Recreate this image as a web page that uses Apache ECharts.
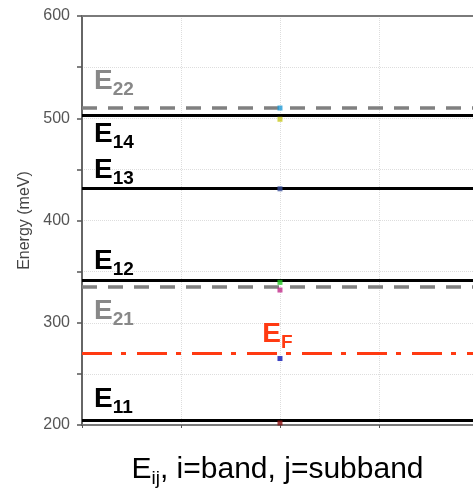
<!DOCTYPE html>
<html><head><meta charset="utf-8">
<script src="https://cdn.jsdelivr.net/npm/echarts@6/dist/echarts.min.js"></script>
<style>html,body{margin:0;padding:0;background:#fff}#c{width:473px;height:493px}</style>
</head><body><div id="c"></div>
<script>
// ---- data ----
const levelSubs   = ['22', '14', '13', '12', '21', 'F', '11'];
const levelValues = [510, 503, 431.5, 342, 335, 270, 204.5];
const levelKinds  = ['dashed', 'solid', 'solid', 'solid', 'dashed', 'dashdot', 'solid'];
const pointX      = 2;
const pointValues = [510, 499, 431, 339.5, 332, 265, 202];
const pointColors = ['#1f9ad6', '#c8c81e', '#3a4f9a', '#22c822', '#c02a8a', '#0a14b4', '#8a1010'];
const yMin = 200, yMax = 600, yStep = 50, yLabelStep = 100;
const xMin = 0, xMax = 3.95, xStep = 1;
const yName = 'Energy (meV)';
const xNameMain = 'E', xNameSub = 'ij', xNameRest = ', i=band, j=subband';

// ---- styles ----
const FONT = 'Liberation Sans, Arial, sans-serif';
const kindStyle = {
  solid:   { color: '#000000', width: 3, type: 'solid' },
  dashed:  { color: '#808080', width: 3.5, type: [15, 11] },
  dashdot: { color: '#ff3a12', width: 3, type: [30, 9, 5, 11] }
};
const textColor = { solid: '#000000', dashed: '#888888', dashdot: '#ff3a12' };
// label placement per level (position, [along, perpendicular])
const labelPlace = [
  ['insideStartTop', [12, 13]],
  ['insideStartBottom', [12, 5]],
  ['insideStartTop', [12, 4]],
  ['insideStartTop', [12, 5]],
  ['insideStartBottom', [12, 10]],
  ['insideMiddleTop', [-2, 5]],
  ['insideStartTop', [12, 7]]
];

function richFor(color) {
  return {
    m: { fontFamily: FONT, fontSize: 28, fontWeight: 'bold', color: color, lineHeight: 28, verticalAlign: 'top' },
    s: { fontFamily: FONT, fontSize: 19, fontWeight: 'bold', color: color, lineHeight: 20, verticalAlign: 'top', padding: [13, 0, 0, 0] }
  };
}

const markData = levelValues.map((v, i) => {
  const k = levelKinds[i];
  return {
    yAxis: v,
    lineStyle: kindStyle[k],
    label: {
      show: true,
      position: labelPlace[i][0],
      distance: labelPlace[i][1],
      formatter: '{m|E}{s|' + levelSubs[i] + '}',
      rich: richFor(textColor[k])
    }
  };
});

const chart = echarts.init(document.getElementById('c'), null, { renderer: 'canvas' });
chart.setOption({
  animation: false,
  backgroundColor: '#ffffff',
  grid: { left: 82, top: 16, right: 0, bottom: 64 },
  xAxis: [{
    type: 'value', min: xMin, max: xMax, interval: xStep,
    axisLabel: { show: false },
    axisLine: { show: true, lineStyle: { color: '#7a7a7a', width: 2 } },
    axisTick: { show: true, length: 3, lineStyle: { color: '#555' } },
    splitLine: { show: true, lineStyle: { color: '#dddddd', type: 'dotted', width: 1 } },
    name: '{m|' + xNameMain + '}{s|' + xNameSub + '}{m|' + xNameRest + '}',
    nameLocation: 'middle', nameGap: 30,
    nameTextStyle: {
      rich: {
        m: { fontFamily: FONT, fontSize: 30, color: '#000', lineHeight: 30, verticalAlign: 'top' },
        s: { fontFamily: FONT, fontSize: 19, color: '#000', lineHeight: 20, verticalAlign: 'top', padding: [14, 0, 0, 0] }
      }
    }
  }, {
    type: 'value', position: 'top', min: xMin, max: xMax, interval: xStep,
    axisLabel: { show: false }, axisTick: { show: false }, splitLine: { show: false },
    axisLine: { show: true, lineStyle: { color: '#7a7a7a', width: 2 } }
  }],
  yAxis: {
    type: 'value', min: yMin, max: yMax, interval: yStep,
    axisLine: { show: true, lineStyle: { color: '#666', width: 2 } },
    axisTick: { show: true, length: 5, lineStyle: { color: '#555', width: 1.5 } },
    axisLabel: { color: '#555', fontFamily: FONT, fontSize: 16, margin: 12,
      formatter: v => (v % yLabelStep === 0 ? String(v) : '') },
    splitLine: { show: true, lineStyle: { color: '#dddddd', type: 'dotted', width: 1 } },
    name: yName, nameLocation: 'middle', nameGap: 48,
    nameTextStyle: { color: '#444', fontFamily: FONT, fontSize: 16 }
  },
  series: [
    {
      type: 'line', data: [], z: 1, silent: true,
      markLine: { silent: true, symbol: 'none', animation: false, precision: 3, data: markData }
    },
    {
      type: 'scatter', z: 5, symbol: 'rect', symbolSize: 5,
      data: pointValues.map((v, i) => ({ value: [pointX, v], itemStyle: { color: pointColors[i] } }))
    }
  ]
});
</script></body></html>
